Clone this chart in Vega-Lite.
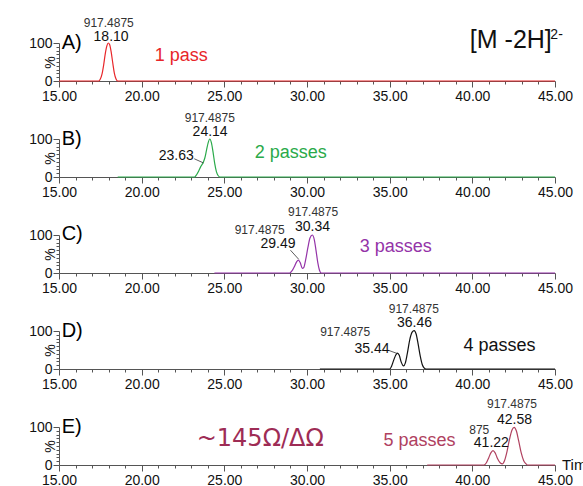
{
  "$schema": "https://vega.github.io/schema/vega-lite/v6.json",
  "padding": {"left": 28, "top": 17, "right": 0, "bottom": 0},
  "bounds": "flush",
  "spacing": {"row": 58},
  "background": "white",
  "data": {"values": [
    {"panel": "A", "role": "trace", "t": 15, "v": 0},
    {"panel": "A", "role": "trace", "t": 17.4, "v": 0},
    {"panel": "A", "role": "trace", "t": 17.5, "v": 5},
    {"panel": "A", "role": "trace", "t": 17.6, "v": 18},
    {"panel": "A", "role": "trace", "t": 17.7, "v": 42},
    {"panel": "A", "role": "trace", "t": 17.8, "v": 72},
    {"panel": "A", "role": "trace", "t": 17.9, "v": 93},
    {"panel": "A", "role": "trace", "t": 17.98, "v": 100},
    {"panel": "A", "role": "trace", "t": 18.06, "v": 96},
    {"panel": "A", "role": "trace", "t": 18.15, "v": 78},
    {"panel": "A", "role": "trace", "t": 18.25, "v": 48},
    {"panel": "A", "role": "trace", "t": 18.35, "v": 20},
    {"panel": "A", "role": "trace", "t": 18.45, "v": 5},
    {"panel": "A", "role": "trace", "t": 18.55, "v": 0},
    {"panel": "A", "role": "trace", "t": 45, "v": 0},
    {"panel": "B", "role": "trace", "t": 18.55, "v": 0},
    {"panel": "B", "role": "trace", "t": 23.2, "v": 0},
    {"panel": "B", "role": "trace", "t": 23.32, "v": 6},
    {"panel": "B", "role": "trace", "t": 23.45, "v": 16},
    {"panel": "B", "role": "trace", "t": 23.58, "v": 28},
    {"panel": "B", "role": "trace", "t": 23.72, "v": 38},
    {"panel": "B", "role": "trace", "t": 23.82, "v": 50},
    {"panel": "B", "role": "trace", "t": 23.92, "v": 70},
    {"panel": "B", "role": "trace", "t": 24.02, "v": 90},
    {"panel": "B", "role": "trace", "t": 24.12, "v": 100},
    {"panel": "B", "role": "trace", "t": 24.22, "v": 90},
    {"panel": "B", "role": "trace", "t": 24.32, "v": 65},
    {"panel": "B", "role": "trace", "t": 24.42, "v": 35},
    {"panel": "B", "role": "trace", "t": 24.52, "v": 14},
    {"panel": "B", "role": "trace", "t": 24.62, "v": 4},
    {"panel": "B", "role": "trace", "t": 24.74, "v": 0},
    {"panel": "B", "role": "trace", "t": 45, "v": 0},
    {"panel": "C", "role": "trace", "t": 24.4, "v": 0},
    {"panel": "C", "role": "trace", "t": 28.95, "v": 0},
    {"panel": "C", "role": "trace", "t": 29.1, "v": 6},
    {"panel": "C", "role": "trace", "t": 29.25, "v": 18},
    {"panel": "C", "role": "trace", "t": 29.38, "v": 30},
    {"panel": "C", "role": "trace", "t": 29.48, "v": 34},
    {"panel": "C", "role": "trace", "t": 29.6, "v": 26},
    {"panel": "C", "role": "trace", "t": 29.72, "v": 12},
    {"panel": "C", "role": "trace", "t": 29.8, "v": 14},
    {"panel": "C", "role": "trace", "t": 29.92, "v": 35},
    {"panel": "C", "role": "trace", "t": 30.05, "v": 66},
    {"panel": "C", "role": "trace", "t": 30.18, "v": 92},
    {"panel": "C", "role": "trace", "t": 30.32, "v": 100},
    {"panel": "C", "role": "trace", "t": 30.44, "v": 88},
    {"panel": "C", "role": "trace", "t": 30.55, "v": 58},
    {"panel": "C", "role": "trace", "t": 30.65, "v": 28},
    {"panel": "C", "role": "trace", "t": 30.75, "v": 8},
    {"panel": "C", "role": "trace", "t": 30.86, "v": 0},
    {"panel": "C", "role": "trace", "t": 45, "v": 0},
    {"panel": "D", "role": "trace", "t": 30.78, "v": 0},
    {"panel": "D", "role": "trace", "t": 35.0, "v": 0},
    {"panel": "D", "role": "trace", "t": 35.12, "v": 8},
    {"panel": "D", "role": "trace", "t": 35.25, "v": 24},
    {"panel": "D", "role": "trace", "t": 35.37, "v": 37},
    {"panel": "D", "role": "trace", "t": 35.47, "v": 42},
    {"panel": "D", "role": "trace", "t": 35.58, "v": 36},
    {"panel": "D", "role": "trace", "t": 35.7, "v": 18},
    {"panel": "D", "role": "trace", "t": 35.84, "v": 8},
    {"panel": "D", "role": "trace", "t": 35.95, "v": 16},
    {"panel": "D", "role": "trace", "t": 36.08, "v": 44},
    {"panel": "D", "role": "trace", "t": 36.22, "v": 78},
    {"panel": "D", "role": "trace", "t": 36.36, "v": 97},
    {"panel": "D", "role": "trace", "t": 36.48, "v": 101},
    {"panel": "D", "role": "trace", "t": 36.6, "v": 92},
    {"panel": "D", "role": "trace", "t": 36.72, "v": 66},
    {"panel": "D", "role": "trace", "t": 36.85, "v": 34},
    {"panel": "D", "role": "trace", "t": 36.97, "v": 12},
    {"panel": "D", "role": "trace", "t": 37.08, "v": 3},
    {"panel": "D", "role": "trace", "t": 37.2, "v": 0},
    {"panel": "D", "role": "trace", "t": 45, "v": 0},
    {"panel": "E", "role": "trace", "t": 37.27, "v": 0},
    {"panel": "E", "role": "trace", "t": 40.7, "v": 0},
    {"panel": "E", "role": "trace", "t": 40.85, "v": 6},
    {"panel": "E", "role": "trace", "t": 41.0, "v": 20},
    {"panel": "E", "role": "trace", "t": 41.12, "v": 32},
    {"panel": "E", "role": "trace", "t": 41.25, "v": 38},
    {"panel": "E", "role": "trace", "t": 41.38, "v": 32},
    {"panel": "E", "role": "trace", "t": 41.52, "v": 17},
    {"panel": "E", "role": "trace", "t": 41.68, "v": 6},
    {"panel": "E", "role": "trace", "t": 41.82, "v": 3},
    {"panel": "E", "role": "trace", "t": 41.95, "v": 12},
    {"panel": "E", "role": "trace", "t": 42.1, "v": 36},
    {"panel": "E", "role": "trace", "t": 42.25, "v": 68},
    {"panel": "E", "role": "trace", "t": 42.4, "v": 92},
    {"panel": "E", "role": "trace", "t": 42.53, "v": 99},
    {"panel": "E", "role": "trace", "t": 42.66, "v": 90},
    {"panel": "E", "role": "trace", "t": 42.8, "v": 64},
    {"panel": "E", "role": "trace", "t": 42.95, "v": 33},
    {"panel": "E", "role": "trace", "t": 43.1, "v": 12},
    {"panel": "E", "role": "trace", "t": 43.22, "v": 4},
    {"panel": "E", "role": "trace", "t": 43.33, "v": 0},
    {"panel": "E", "role": "trace", "t": 45, "v": 0},

    {"panel": "A", "role": "mass", "t": 18.01, "v": 142, "label": "917.4875"},
    {"panel": "A", "role": "rt", "t": 18.15, "v": 105, "label": "18.10"},
    {"panel": "A", "role": "letter", "t": 15.16, "v": 85, "label": "A)"},
    {"panel": "A", "role": "pass", "t": 20.79, "v": 52, "label": "1 pass"},
    {"panel": "A", "role": "ion", "t": 39.85, "v": 88, "label": "[M -2H]"},
    {"panel": "A", "role": "ionsup", "t": 44.72, "v": 110, "label": "2-"},

    {"panel": "B", "role": "mass", "t": 24.12, "v": 145, "label": "917.4875"},
    {"panel": "B", "role": "rt", "t": 24.14, "v": 107, "label": "24.14"},
    {"panel": "B", "role": "rt", "t": 22.09, "v": 46, "label": "23.63"},
    {"panel": "B", "role": "leader", "t": 23.18, "v": 48, "t2": 23.74, "v2": 37},
    {"panel": "B", "role": "letter", "t": 15.16, "v": 85, "label": "B)"},
    {"panel": "B", "role": "pass", "t": 26.84, "v": 51, "label": "2 passes"},

    {"panel": "C", "role": "mass", "t": 30.37, "v": 149, "label": "917.4875"},
    {"panel": "C", "role": "rt", "t": 30.33, "v": 110, "label": "30.34"},
    {"panel": "C", "role": "mass", "t": 27.14, "v": 102, "label": "917.4875"},
    {"panel": "C", "role": "rt", "t": 28.25, "v": 66, "label": "29.49"},
    {"panel": "C", "role": "leader", "t": 29.0, "v": 60, "t2": 29.5, "v2": 36},
    {"panel": "C", "role": "letter", "t": 15.16, "v": 87, "label": "C)"},
    {"panel": "C", "role": "pass", "t": 33.19, "v": 54, "label": "3 passes"},

    {"panel": "D", "role": "mass", "t": 36.46, "v": 147, "label": "917.4875"},
    {"panel": "D", "role": "rt", "t": 36.5, "v": 111, "label": "36.46"},
    {"panel": "D", "role": "mass", "t": 32.31, "v": 87, "label": "917.4875"},
    {"panel": "D", "role": "rt", "t": 33.93, "v": 41, "label": "35.44"},
    {"panel": "D", "role": "leader", "t": 34.94, "v": 49, "t2": 35.44, "v2": 41},
    {"panel": "D", "role": "letter", "t": 15.16, "v": 85, "label": "D)"},
    {"panel": "D", "role": "pass", "t": 39.46, "v": 47, "label": "4 passes"},

    {"panel": "E", "role": "mass", "t": 42.4, "v": 149, "label": "917.4875"},
    {"panel": "E", "role": "rt", "t": 42.55, "v": 109, "label": "42.58"},
    {"panel": "E", "role": "mass", "t": 40.42, "v": 81, "label": "875"},
    {"panel": "E", "role": "rt", "t": 41.15, "v": 47, "label": "41.22"},
    {"panel": "E", "role": "letter", "t": 15.16, "v": 85, "label": "E)"},
    {"panel": "E", "role": "big", "t": 23.33, "v": 49, "label": "~145Ω/ΔΩ"},
    {"panel": "E", "role": "pass", "t": 34.62, "v": 49, "label": "5 passes"},
    {"panel": "E", "role": "tim", "t": 45.42, "v": -12, "label": "Time"}
  ]},
  "facet": {"row": {"field": "panel", "type": "nominal", "header": {"labels": false, "title": null}}},
  "resolve": {"axis": {"x": "independent"}},
  "spec": {
    "width": 496,
    "height": 38,
    "encoding": {
      "x": {
        "field": "t", "type": "quantitative",
        "scale": {"domain": [15, 45], "nice": false, "zero": false},
        "axis": {
          "title": null,
          "values": [15,16,17,18,19,20,21,22,23,24,25,26,27,28,29,30,31,32,33,34,35,36,37,38,39,40,41,42,43,44,45],
          "labelExpr": "datum.value % 5 === 0 ? format(datum.value, '.2f') : ''",
          "tickSize": {"condition": {"test": "datum.value % 5 === 0", "value": 6}, "value": 3},
          "labelOverlap": false,
          "labelFlush": false,
          "labelBound": false,
          "labelPadding": 2,
          "labelFontSize": 14,
          "grid": false
        }
      },
      "y": {
        "field": "v", "type": "quantitative",
        "scale": {"domain": [0, 100], "nice": false},
        "axis": {
          "title": "%",
          "values": [0,10,20,30,40,50,60,70,80,90,100],
          "labelExpr": "datum.value % 100 === 0 ? '' + datum.value : ''",
          "tickSize": {"condition": {"test": "datum.value % 100 === 0", "value": 6}, "value": 3},
          "labelOverlap": false,
          "labelFlush": false,
          "labelPadding": 1,
          "labelFontSize": 14,
          "titleFontSize": 14,
          "titleFontWeight": "normal",
          "titleAngle": -90,
          "titleX": -9,
          "titleY": 19,
          "titleAlign": "center",
          "titleBaseline": "middle",
          "grid": false
        }
      }
    },
    "layer": [
      {
        "transform": [{"filter": "datum.role === 'trace'"}],
        "mark": {"type": "line", "strokeWidth": 1.2, "interpolate": "monotone"},
        "encoding": {
          "color": {"field": "panel", "type": "nominal", "legend": null,
            "scale": {"domain": ["A", "B", "C", "D", "E"], "range": ["#e8262a", "#2aaa4a", "#9433a8", "#111111", "#b0415f"]}}
        }
      },
      {
        "transform": [{"filter": "datum.role === 'leader'"}],
        "mark": {"type": "rule", "color": "#333333", "strokeWidth": 0.8},
        "encoding": {"x2": {"field": "t2"}, "y2": {"field": "v2"}}
      },
      {
        "transform": [{"filter": "datum.role === 'mass'"}],
        "mark": {"type": "text", "fontSize": 12, "color": "#333333", "align": "center", "baseline": "alphabetic"},
        "encoding": {"text": {"field": "label"}}
      },
      {
        "transform": [{"filter": "datum.role === 'rt'"}],
        "mark": {"type": "text", "fontSize": 14, "color": "#111111", "align": "center", "baseline": "alphabetic"},
        "encoding": {"text": {"field": "label"}}
      },
      {
        "transform": [{"filter": "datum.role === 'letter'"}],
        "mark": {"type": "text", "fontSize": 20, "color": "#000000", "align": "left", "baseline": "alphabetic"},
        "encoding": {"text": {"field": "label"}}
      },
      {
        "transform": [{"filter": "datum.role === 'pass'"}],
        "mark": {"type": "text", "fontSize": 18, "align": "left", "baseline": "alphabetic"},
        "encoding": {
          "text": {"field": "label"},
          "color": {"field": "panel", "type": "nominal", "legend": null}
        }
      },
      {
        "transform": [{"filter": "datum.role === 'big'"}],
        "mark": {"type": "text", "fontSize": 24, "font": "DejaVu Sans", "color": "#9e2c55", "align": "left", "baseline": "alphabetic"},
        "encoding": {"text": {"field": "label"}}
      },
      {
        "transform": [{"filter": "datum.role === 'ion'"}],
        "mark": {"type": "text", "fontSize": 25, "color": "#111111", "align": "left", "baseline": "alphabetic"},
        "encoding": {"text": {"field": "label"}}
      },
      {
        "transform": [{"filter": "datum.role === 'ionsup'"}],
        "mark": {"type": "text", "fontSize": 14, "color": "#111111", "align": "left", "baseline": "alphabetic"},
        "encoding": {"text": {"field": "label"}}
      },
      {
        "transform": [{"filter": "datum.role === 'tim'"}],
        "mark": {"type": "text", "fontSize": 15, "color": "#111111", "align": "left", "baseline": "alphabetic"},
        "encoding": {"text": {"field": "label"}}
      }
    ]
  },
  "config": {
    "view": {"stroke": null},
    "font": "Liberation Sans",
    "text": {"font": "Liberation Sans"},
    "axis": {
      "labelFont": "Liberation Sans",
      "titleFont": "Liberation Sans",
      "labelColor": "#111111",
      "titleColor": "#111111",
      "domainColor": "#555555",
      "tickColor": "#555555"
    }
  }
}
